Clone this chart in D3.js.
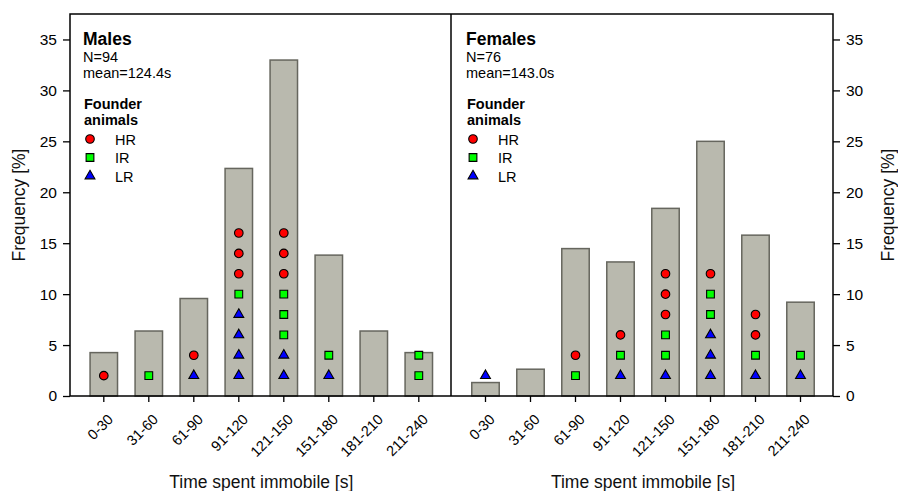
<!DOCTYPE html>
<html>
<head>
<meta charset="utf-8">
<script src="https://cdn.jsdelivr.net/npm/d3@7"></script>
<style>
  html, body { margin: 0; padding: 0; background: #fff; }
  svg { display: block; font-family: "Liberation Sans", Arial, sans-serif; }
</style>
</head>
<body>
<svg id="chart" width="898" height="491"></svg>
<script>
// ---------------- DATA ----------------
const categories = ["0-30", "31-60", "61-90", "91-120", "121-150", "151-180", "181-210", "211-240"];
const yTicks = [0, 5, 10, 15, 20, 25, 30, 35];

// Frequency [%] per bin
const maleFreq   = [4.26, 6.38, 9.57, 22.34, 32.98, 13.83, 6.38, 4.26];
const femaleFreq = [1.32, 2.63, 14.47, 13.16, 18.42, 25.0, 15.79, 9.21];

// Founder animals per bin (number of markers, stacked LR, IR, HR from bottom)
const maleLR   = [0, 0, 1, 4, 2, 1, 0, 0];
const maleIR   = [0, 1, 0, 1, 3, 1, 0, 2];
const maleHR   = [1, 0, 1, 3, 3, 0, 0, 0];
const femaleLR = [1, 0, 0, 1, 1, 3, 1, 1];
const femaleIR = [0, 0, 1, 1, 2, 2, 1, 1];
const femaleHR = [0, 0, 1, 1, 3, 1, 2, 0];
const markerStep = 2; // marker spacing in % units

const panels = [
  { title: "Males",   n: "N=94", mean: "mean=124.4s", freq: maleFreq,   LR: maleLR,   IR: maleIR,   HR: maleHR },
  { title: "Females", n: "N=76", mean: "mean=143.0s", freq: femaleFreq, LR: femaleLR, IR: femaleIR, HR: femaleHR }
];

// ---------------- LAYOUT ----------------
const svg = d3.select("#chart");
const plotTop = 14, plotBottom = 396;
const leftX = 70, midX = 451, rightX = 833;
const y = d3.scaleLinear().domain([0, 37.5]).range([plotBottom, plotTop]);

const styles = {
  HR: { color: "#ff0000", symbol: d3.symbolCircle, size: 58 },
  IR: { color: "#00ff00", symbol: d3.symbolSquare, size: 60 },
  LR: { color: "#0000ff", symbol: d3.symbolTriangle, size: 42 }
};

const xRanges = [[81.3, 441.3], [463, 823]];
const panelLeft = [leftX, midX];

panels.forEach((p, pi) => {
  const x = d3.scaleBand().domain(categories).range(xRanges[pi]).paddingInner(0.39).paddingOuter(0.195);
  const g = svg.append("g");

  // bars
  g.selectAll("rect.bar").data(categories).join("rect")
    .attr("class", "bar")
    .attr("x", d => x(d))
    .attr("width", x.bandwidth())
    .attr("y", (d, i) => y(p.freq[i]))
    .attr("height", (d, i) => y(0) - y(p.freq[i]))
    .attr("fill", "#bababa")
    .attr("stroke", "#66665e")
    .attr("stroke-width", 1.5)
    .attr("fill", "#b9b9ae");

  // markers
  const pts = [];
  categories.forEach((c, i) => {
    let k = 0;
    ["LR", "IR", "HR"].forEach(type => {
      for (let j = 0; j < p[type][i]; j++) {
        k++;
        pts.push({ cat: c, type, v: k * markerStep });
      }
    });
  });
  g.selectAll("path.mk").data(pts).join("path")
    .attr("class", "mk")
    .attr("transform", d => `translate(${x(d.cat) + x.bandwidth() / 2},${y(d.v)})`)
    .attr("d", d => d3.symbol().type(styles[d.type].symbol).size(styles[d.type].size)())
    .attr("fill", d => styles[d.type].color)
    .attr("stroke", "#000")
    .attr("stroke-width", 1.1);

  // x axis
  const xa = svg.append("g").attr("transform", `translate(0,${plotBottom})`)
    .call(d3.axisBottom(x).tickSize(6).tickSizeOuter(0).tickPadding(0));
  xa.select(".domain").remove();
  xa.selectAll(".tick line").attr("stroke", "#000").attr("stroke-width", 1.3);
  xa.selectAll(".tick text")
    .attr("font-size", 14.5)
    .attr("fill", "#000")
    .attr("text-anchor", "end")
    .attr("dy", 0)
    .attr("transform", "translate(6,20) rotate(-45)");

  // x axis title
  const xr = xRanges[pi];
  svg.append("text")
    .attr("x", (xr[0] + xr[1]) / 2)
    .attr("y", 488)
    .attr("text-anchor", "middle")
    .attr("font-size", 17.5)
    .attr("fill", "#111")
    .text("Time spent immobile [s]");

  // panel texts
  const lx = panelLeft[pi] + (pi === 0 ? 13 : 15);
  const t = svg.append("g").attr("fill", "#000");
  t.append("text").attr("x", lx).attr("y", 44.5).attr("font-size", 17.5).attr("font-weight", "bold").text(p.title);
  t.append("text").attr("x", lx).attr("y", 61.5).attr("font-size", 14.5).text(p.n);
  t.append("text").attr("x", lx).attr("y", 77.5).attr("font-size", 14.5).text(p.mean);
  t.append("text").attr("x", lx + 1).attr("y", 108.5).attr("font-size", 14.5).attr("font-weight", "bold").text("Founder");
  t.append("text").attr("x", lx + 1).attr("y", 125).attr("font-size", 14.5).attr("font-weight", "bold").text("animals");
  const legend = [["HR", 139], ["IR", 157.5], ["LR", 176]];
  legend.forEach(([type, ly]) => {
    t.append("path")
      .attr("transform", `translate(${lx + 7},${ly})`)
      .attr("d", d3.symbol().type(styles[type].symbol).size(styles[type].size)())
      .attr("fill", styles[type].color)
      .attr("stroke", "#000")
      .attr("stroke-width", 1.1);
    t.append("text").attr("x", lx + 32).attr("y", ly + 5.5).attr("font-size", 14.5).text(type);
  });
});

// frame
svg.append("rect")
  .attr("x", leftX).attr("y", plotTop).attr("width", rightX - leftX).attr("height", plotBottom - plotTop)
  .attr("fill", "none").attr("stroke", "#000").attr("stroke-width", 1.5);
svg.append("line")
  .attr("x1", midX).attr("x2", midX).attr("y1", plotTop).attr("y2", plotBottom)
  .attr("stroke", "#000").attr("stroke-width", 1.5);

// y axes
const yl = svg.append("g").attr("transform", `translate(${leftX},0)`)
  .call(d3.axisLeft(y).tickValues(yTicks).tickSize(7).tickSizeOuter(0).tickPadding(6));
const yr = svg.append("g").attr("transform", `translate(${rightX},0)`)
  .call(d3.axisRight(y).tickValues(yTicks).tickSize(7).tickSizeOuter(0).tickPadding(6));
[yl, yr].forEach(a => {
  a.select(".domain").remove();
  a.selectAll(".tick line").attr("stroke", "#000").attr("stroke-width", 1.3);
  a.selectAll(".tick text").attr("font-size", 15.5).attr("fill", "#000");
});

// y titles
const midY = (plotTop + plotBottom) / 2;
svg.append("text")
  .attr("transform", `translate(25,${midY}) rotate(-90)`)
  .attr("text-anchor", "middle").attr("font-size", 17.5).attr("fill", "#111")
  .text("Frequency [%]");
svg.append("text")
  .attr("transform", `translate(894,${midY}) rotate(-90)`)
  .attr("text-anchor", "middle").attr("font-size", 17.5).attr("fill", "#111")
  .text("Frequency [%]");
</script>
</body>
</html>
